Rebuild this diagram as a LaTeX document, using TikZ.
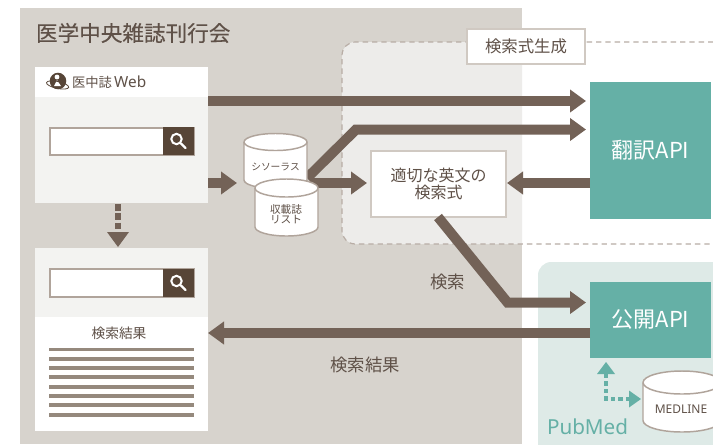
\documentclass[tikz,border=0pt]{standalone}
\usepackage{fontspec}
\setmainfont{Noto Sans CJK JP}
\newfontfamily\medfont[FakeBold=0.25]{Noto Sans CJK JP}
\newfontfamily\latinfont{Noto Sans}
\usetikzlibrary{arrows.meta,calc}
\definecolor{bgbeige}{HTML}{D7D3CD}
\definecolor{regionfill}{HTML}{EDECEA}
\definecolor{dashcol}{HTML}{B8ADA5}
\definecolor{panelgray}{HTML}{F3F3F1}
\definecolor{darkbtn}{HTML}{574537}
\definecolor{arrowbrown}{HTML}{736257}
\definecolor{txtbrown}{HTML}{5F5148}
\definecolor{boxline}{HTML}{D0C9C2}
\definecolor{cylline}{HTML}{B0A49B}
\definecolor{teal}{HTML}{65B0A6}
\definecolor{palegreen}{HTML}{DEEAE7}
\definecolor{listline}{HTML}{95897D}
\newcommand{\pxfont}[1]{\fontsize{#1}{#1}\selectfont}
\tikzset{
  x=0.75pt,y=-0.75pt,
  every node/.style={inner sep=0pt,outer sep=0pt,text=txtbrown},
  fatarrow/.style={draw=arrowbrown,line width=7.5pt,-{Triangle[length=12pt,width=16.5pt]},line join=miter},
  rect/.style args={#1:#2:#3:#4}{at={({(#1+#3)/2},{(#2+#4)/2})},minimum width={(#3-#1)*0.75pt},minimum height={(#4-#2)*0.75pt}},
  wbox/.style={fill=white},
  framed/.style={fill=white,draw=boxline,line width=1.3pt},
  apibox/.style={fill=teal,text=white,font=\pxfont{16.5pt}},
  searchfield/.style={fill=white,draw=cylline,line width=1pt},
  searchbtn/.style={fill=darkbtn},
  listrule/.style={draw=listline,line width=2.3pt},
  cylbody/.style={fill=white,draw=cylline,line width=1.1pt},
  tealdash/.style={draw=teal,line width=3.4pt,dash pattern=on 3.2pt off 2.4pt},
}
% centre x, top ellipse centre y, bottom ellipse centre y, rx, ry
\newcommand{\cyl}[5]{%
  \path[cylbody] (#1-#4,#2) -- (#1-#4,#3)
    arc[start angle=180,end angle=360,x radius=#4*0.75pt,y radius=#5*0.75pt]
    -- (#1+#4,#2) arc[start angle=0,end angle=180,x radius=#4*0.75pt,y radius=#5*0.75pt] -- cycle;
  \path[cylbody,fill=none] (#1-#4,#2) arc[start angle=180,end angle=360,x radius=#4*0.75pt,y radius=#5*0.75pt];
}
% search icon at centre
\newcommand{\lens}[1]{%
  \draw[white,line width=1.5pt] ($(#1)+(-2,-2)$) circle[radius=3.9pt];
  \draw[white,line width=1.8pt,line cap=round] ($(#1)+(2.5,2.5)$) -- ($(#1)+(7,7)$);
}
\begin{document}
\begin{tikzpicture}
\useasboundingbox (0,0) rectangle (713,444);
\clip (0,0) rectangle (713,444);
\fill[white] (0,0) rectangle (713,444);
\fill[bgbeige] (20,8) rectangle (522,444);
% generation region
\begin{scope}
  \clip (0,0) rectangle (522,444);
  \fill[regionfill,rounded corners=10pt] (342,42) rectangle (760,244);
\end{scope}
\draw[dashcol,line width=0.9pt,dash pattern=on 4pt off 3pt,rounded corners=10pt] (760,42) -- (342,42) -- (342,244) -- (760,244);
% PubMed region
\fill[palegreen,rounded corners=10pt] (538,262) rectangle (760,470);
\node[anchor=base west,text=teal,font=\latinfont\pxfont{15.5pt}] (pubmed) at (547,434) {PubMed};
% title
\node[anchor=west,font=\medfont\pxfont{16.2pt}] (title) at (36,33) {医学中央雑誌刊行会};
% label
\node[rect=467:29:585:64,framed,font=\pxfont{12.3pt}] (genlabel) {検索式生成};
% web panel
\node[rect=35:67:208:203,fill=panelgray] (web) {};
\node[rect=35:67:208:97,wbox] (webhead) {};
\node[anchor=west,font=\pxfont{10pt}] (webname) at (72,82) {医中誌\,{\latinfont\pxfont{11.5pt}Web}};
% logo
\fill[darkbtn] (58,81) circle[radius=6.2pt];
\fill[white] (57,77) circle[radius=1.8pt];
\fill[white] (54,86) -- (57,80) -- (61,86) -- cycle;
\draw[darkbtn,line width=0.6pt,rotate around={-12:(58,83)}] (58,85) ellipse[x radius=8.5pt,y radius=2.6pt];
% search 1
\node[rect=50:128:194:155,searchfield] (search1) {};
\node[rect=163:127:194:155,searchbtn] (btn1) {};
\lens{btn1}
% results panel
\node[rect=35:248:208:431,wbox] (results) {};
\node[rect=35:248:208:317,fill=panelgray] (resultshead) {};
\node[rect=50:269:194:297,searchfield] (search2) {};
\node[rect=163:269:194:297,searchbtn] (btn2) {};
\lens{btn2}
\node[font=\pxfont{10.3pt}] (restitle) at (119,333) {検索結果};
\foreach \yy in {349.5,359,368,377,387,396,405,415}
  \draw[listrule] (49,\yy) -- (194,\yy);
% api boxes
\node[rect=590:82:711:219,apibox] (trans) {翻訳API};
\node[rect=590:282:711:358,apibox] (pubapi) {公開API};
% query box
\node[rect=371:151:506:217,framed,align=center,font=\pxfont{12pt}] (query) {適切な英文の\\[1pt]検索式};
% cylinders
\node[rect=244:134:307:188] (thesbody) {};
\coordinate (thesout) at (307,178);
\coordinate (thesin) at (310,183);
\coordinate (queryin) at (367,183);
\coordinate (bendup) at (356,129.5);
\coordinate (transtwo) at (586,129.5);
\draw[fatarrow] (thesin) -- (queryin);
\draw[fatarrow] (thesout) -- (bendup) -- (transtwo);
\cyl{275.5}{142}{180}{31.5}{8.5}
\node[font=\pxfont{7.3pt}] (thes) at (275.5,167) {シソーラス};
\cyl{286.5}{188}{227}{31.5}{9}
\node[align=center,font=\pxfont{8pt}] (journal) at (286,214) {収載誌\\[-0.5pt]リスト};
% fat arrows
\coordinate (webout) at (208,101);
\coordinate (transone) at (586,101);
\draw[fatarrow] (webout) -- (transone);
\coordinate (webout2) at (208,183);
\coordinate (thesarrive) at (237,183);
\draw[fatarrow] (webout2) -- (thesarrive);
\coordinate (transout) at (590,183);
\coordinate (queryout) at (507,183);
\draw[fatarrow] (transout) -- (queryout);
\coordinate (querydown) at (438,217);
\coordinate (bend) at (507.5,302.5);
\coordinate (pubin) at (586,302.5);
\draw[fatarrow] (querydown) -- (bend) -- (pubin);
\coordinate (pubout) at (590,333);
\coordinate (resin) at (208,333);
\draw[fatarrow] (pubout) -- (resin);
\coordinate (webdown) at (118,204);
\coordinate (webdownend) at (118,233);
\draw[arrowbrown,line width=4.4pt,dash pattern=on 5pt off 2pt] (webdown) -- (webdownend);
\fill[arrowbrown] (107,232) -- (129,232) -- (118,247) -- cycle;
\node[font=\pxfont{13pt}] (searchlbl) at (447.5,282) {検索};
\node[font=\pxfont{13pt}] (resultlbl) at (365,365) {検索結果};
% MEDLINE
\cyl{682}{382.5}{420.5}{39}{11.5}
\node[font=\latinfont\pxfont{9pt}] (medline) at (681,409) {MEDLINE};
\coordinate (elbow) at (606,399);
\coordinate (elbowup) at (606,374);
\coordinate (elbowright) at (630,399);
\draw[tealdash] (elbowup) -- (elbow) -- (elbowright);
\fill[teal] (597,374) -- (615,374) -- (606,362) -- cycle;
\fill[teal] (629,390.5) -- (629,407.5) -- (641,399) -- cycle;
\end{tikzpicture}
\end{document}
